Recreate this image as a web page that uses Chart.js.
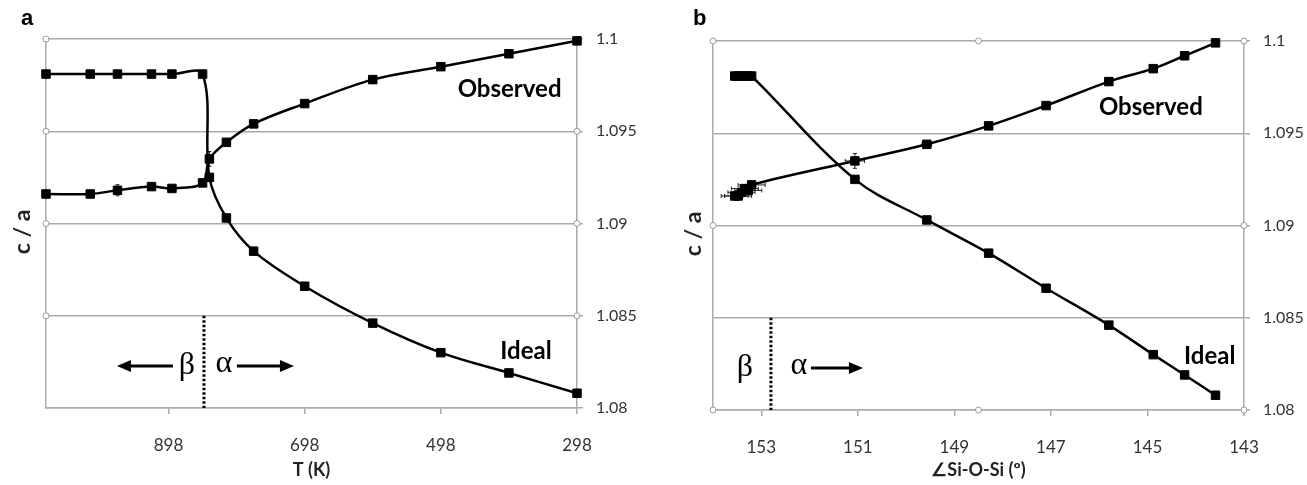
<!DOCTYPE html>
<html>
<head>
<meta charset="utf-8">
<script src="https://cdn.jsdelivr.net/npm/chart.js@4.4.1/dist/chart.umd.min.js"></script>
<style>
  html, body { margin: 0; padding: 0; background: #fff; }
  body { width: 1307px; height: 485px; position: relative; overflow: hidden; }
  .panel { position: absolute; top: 0; height: 485px; }
  #panelA { left: 0; width: 653px; }
  #panelB { left: 653px; width: 654px; }
  .tag { position: absolute; font: bold 22px "Liberation Sans", Arial, sans-serif; color: #000; }
</style>
</head>
<body>
<div class="panel" id="panelA"><canvas id="chartA"></canvas></div>
<div class="panel" id="panelB"><canvas id="chartB"></canvas></div>
<div class="tag" style="left:21px;top:5px">a</div>
<div class="tag" style="left:693px;top:5px">b</div>
<script>
// measurement temperatures (K), hot to cold
const temps = [1078, 1013, 973, 923, 893, 848, 838, 813, 773, 698, 598, 498, 398, 298];
// Si-O-Si angle (deg) at the same temperatures
const angles = [153.55, 153.48, 153.41, 153.34, 153.27, 153.2, 151.06, 149.57, 148.29, 147.10, 145.80, 144.88, 144.23, 143.59];
// c/a ratios
const observed = [1.0916, 1.0916, 1.0918, 1.0920, 1.0919, 1.0922, 1.0935, 1.0944, 1.0954, 1.0965, 1.0978, 1.0985, 1.0992, 1.0999];
const ideal = [1.0981, 1.0981, 1.0981, 1.0981, 1.0981, 1.0981, 1.0925, 1.0903, 1.0885, 1.0866, 1.0846, 1.0830, 1.0819, 1.0808];
// error bars on the observed values
const observedErr = [0.0001, 0.0001, 0.0003, 0.0001, 0.0001, 0.0001, 0.0004, 0.0001, 0.0001, 0.0001, 0.0001, 0.0001, 0.0001, 0.0001];
const angleErr = [0.28, 0.28, 0.28, 0.28, 0.28, 0.28, 0.2, 0.1, 0.08, 0.08, 0.08, 0.05, 0.05, 0.05];

const tempTicks = [298, 498, 698, 898];
const angleTicks = [143, 145, 147, 149, 151, 153];
const caTicks = [1.08, 1.085, 1.09, 1.095, 1.1];

const transitionT = 846;
const transitionAngle = 152.8;

const FONT = 'Lato, "Open Sans", sans-serif';
const GRID = '#ababab';

function pts(xs, ys) {
    return xs.map((x, i) => ({x: x, y: ys[i]}));
}

function series(xs, ys, extra) {
    return Object.assign({
        data: pts(xs, ys),
        showLine: true,
        borderColor: '#000',
        borderWidth: 2.5,
        backgroundColor: '#000',
        pointStyle: 'rect',
        pointRadius: 6,
        pointBorderWidth: 1,
        pointBorderColor: '#000',
        tension: 0.35,
        clip: false,
        order: 0
    }, extra || {});
}

function handles(list) {
    return {
        data: list,
        showLine: false,
        pointStyle: 'circle',
        pointRadius: 3,
        pointBackgroundColor: '#fff',
        pointBorderColor: '#9a9a9a',
        pointBorderWidth: 1,
        clip: false,
        order: 5
    };
}

// error bars, drawn under the markers
const errorBars = {
    id: 'errorBars',
    beforeDatasetsDraw(chart) {
        const {ctx, scales: {x, y}} = chart;
        ctx.save();
        ctx.strokeStyle = '#222';
        ctx.lineWidth = 1;
        chart.data.datasets.forEach(ds => {
            if (!ds.errX && !ds.errY) return;
            ds.data.forEach((p, i) => {
                const px = x.getPixelForValue(p.x), py = y.getPixelForValue(p.y);
                if (ds.errX) {
                    const a = x.getPixelForValue(p.x - ds.errX[i]), b = x.getPixelForValue(p.x + ds.errX[i]);
                    ctx.beginPath();
                    ctx.moveTo(a, py); ctx.lineTo(b, py);
                    ctx.moveTo(a, py - 2); ctx.lineTo(a, py + 2);
                    ctx.moveTo(b, py - 2); ctx.lineTo(b, py + 2);
                    ctx.stroke();
                }
                if (ds.errY) {
                    const a = y.getPixelForValue(p.y - ds.errY[i]), b = y.getPixelForValue(p.y + ds.errY[i]);
                    ctx.beginPath();
                    ctx.moveTo(px, a); ctx.lineTo(px, b);
                    ctx.moveTo(px - 2, a); ctx.lineTo(px + 2, a);
                    ctx.moveTo(px - 2, b); ctx.lineTo(px + 2, b);
                    ctx.stroke();
                }
            });
        });
        ctx.restore();
    }
};

function arrow(ctx, x1, x2, y) {
    const dir = Math.sign(x2 - x1);
    ctx.beginPath();
    ctx.moveTo(x1, y); ctx.lineTo(x2 - dir * 10, y);
    ctx.stroke();
    ctx.beginPath();
    ctx.moveTo(x2, y);
    ctx.lineTo(x2 - dir * 14, y - 6);
    ctx.lineTo(x2 - dir * 14, y + 6);
    ctx.closePath();
    ctx.fill();
}

// phase boundary, greek labels and series names
const notes = {
    id: 'notes',
    afterDraw(chart, args, o) {
        const {ctx, chartArea: ca, scales: {x, y}} = chart;
        const x0 = x.getPixelForValue(o.at);
        const yl = ca.bottom - 42;
        ctx.save();
        ctx.strokeStyle = '#000';
        ctx.fillStyle = '#000';
        ctx.lineWidth = 3;
        ctx.setLineDash([2.5, 2]);
        ctx.beginPath();
        ctx.moveTo(x0, y.getPixelForValue(1.085));
        ctx.lineTo(x0, ca.bottom);
        ctx.stroke();
        ctx.setLineDash([]);

        ctx.font = '32px "Liberation Serif", "DejaVu Serif", serif';
        ctx.textAlign = 'center';
        ctx.textBaseline = 'middle';
        ctx.fillText('β', x0 + o.beta, yl);
        ctx.fillText('α', x0 + o.alpha, yl - 2);
        ctx.lineWidth = 2.8;
        o.arrows.forEach(a => arrow(ctx, x0 + a[0], x0 + a[1], yl));

        ctx.font = 'bold 24px ' + FONT;
        o.labels.forEach(l => {
            ctx.fillText(l.text, x.getPixelForValue(l.x), y.getPixelForValue(l.y));
        });
        ctx.restore();
    }
};

function caLabel(v) {
    return String(parseFloat(v.toFixed(3)));
}

function makeScales(xCfg) {
    return {
        x: {
            type: 'linear',
            min: xCfg.min,
            max: xCfg.max,
            reverse: true,
            afterBuildTicks: s => { s.ticks = xCfg.ticks.map(v => ({value: v})); },
            afterFit: s => { s.height = xCfg.height; },
            grid: {drawOnChartArea: false, drawTicks: true, tickLength: 6, color: GRID, lineWidth: 1.5},
            border: {color: GRID, width: 1.5},
            ticks: {padding: 21, color: '#333', font: {family: FONT, size: 17}},
            title: {
                display: true,
                text: xCfg.title,
                color: '#222',
                font: {family: FONT, size: 18, weight: 'bold'},
                padding: {top: 0, bottom: 4}
            }
        },
        y: {
            position: 'left',
            min: 1.08,
            max: 1.1,
            afterBuildTicks: s => { s.ticks = caTicks.map(v => ({value: v})); },
            afterFit: s => { s.width = xCfg.left; },
            grid: {color: GRID, lineWidth: 1.5, drawTicks: false},
            border: {color: GRID, width: 1.5},
            ticks: {display: false},
            title: {
                display: true,
                text: 'c / a   ',
                color: '#222',
                font: {family: FONT, size: 23, weight: 'bold'},
                padding: {top: xCfg.titlePad, bottom: 0}
            }
        },
        y2: {
            position: 'right',
            min: 1.08,
            max: 1.1,
            afterBuildTicks: s => { s.ticks = caTicks.map(v => ({value: v})); },
            afterFit: s => { s.width = xCfg.right; },
            grid: {drawOnChartArea: false, tickLength: 6, color: GRID, lineWidth: 1.5},
            border: {color: GRID, width: 1.5},
            ticks: {padding: 13, color: '#333', font: {family: FONT, size: 16}, callback: caLabel}
        }
    };
}

function baseOptions(top, scales, noteOpts) {
    return {
        responsive: true,
        maintainAspectRatio: false,
        animation: false,
        layout: {padding: {top: top, left: 0, right: 0, bottom: 0}},
        plugins: {legend: {display: false}, tooltip: {enabled: false}, notes: noteOpts},
        scales: scales
    };
}

const tMax = 1078, tMin = 298;
const handlesA = caTicks.slice(1).map(v => ({x: tMax, y: v}))
    .concat(caTicks.slice(1, 4).map(v => ({x: tMin, y: v})));

new Chart(document.getElementById('chartA'), {
    type: 'scatter',
    data: {
        datasets: [
            series(temps, ideal),
            series(temps, observed, {errY: observedErr}),
            handles(handlesA)
        ]
    },
    options: baseOptions(39, makeScales({
        min: tMin, max: tMax, ticks: tempTicks, title: 'T (K)',
        height: 77, left: 46, right: 76, titlePad: 9
    }), {
        at: transitionT, beta: -17, alpha: 20,
        arrows: [[-31, -87], [33, 90]],
        labels: [
            {text: 'Observed', x: 397, y: 1.0973},
            {text: 'Ideal', x: 373, y: 1.0831}
        ]
    }),
    plugins: [errorBars, notes]
});

const aMax = 154, aMin = 143, aMid = 148.5;
const handlesB = [
    {x: aMax, y: 1.1}, {x: aMid, y: 1.1}, {x: aMin, y: 1.1},
    {x: aMax, y: 1.09}, {x: aMin, y: 1.09},
    {x: aMax, y: 1.08}, {x: aMid, y: 1.08}, {x: aMin, y: 1.08}
];

new Chart(document.getElementById('chartB'), {
    type: 'scatter',
    data: {
        datasets: [
            series(angles, ideal),
            series(angles, observed, {errX: angleErr, errY: observedErr}),
            handles(handlesB)
        ]
    },
    options: baseOptions(41, makeScales({
        min: aMin, max: aMax, ticks: angleTicks, title: '∠Si-O-Si (º)',
        height: 75, left: 60, right: 63, titlePad: 27
    }), {
        at: transitionAngle, beta: -26, alpha: 28,
        arrows: [[40, 92]],
        labels: [
            {text: 'Observed', x: 144.93, y: 1.0964},
            {text: 'Ideal', x: 143.71, y: 1.0829}
        ]
    }),
    plugins: [errorBars, notes]
});
</script>
</body>
</html>
